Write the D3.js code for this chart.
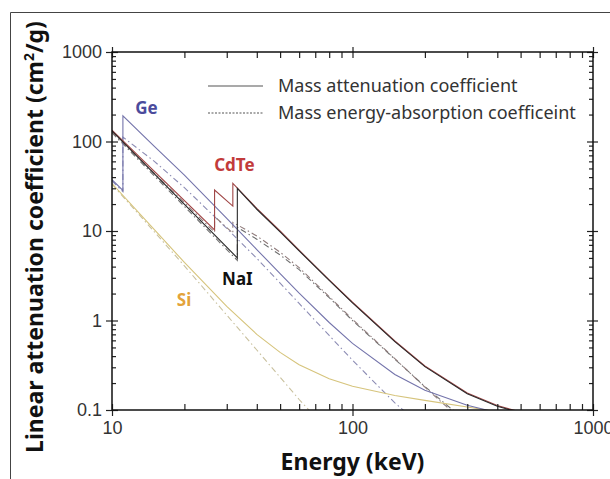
<!DOCTYPE html>
<html>
<head>
<meta charset="utf-8">
<script src="https://cdn.jsdelivr.net/npm/d3@7"></script>
<style>
  body { margin: 0; background: #fff; }
  svg { display: block; font-family: "Noto Sans", "Open Sans", sans-serif; }
  .tick text { fill: #333; }
</style>
</head>
<body>
<div id="chart"></div>
<script>
  // data: [energy keV, coefficient cm2/g]
  var geMu   = [[10,37.4],[11.1,28.4],[11.1,194],[15,88],[20,42.2],[30,13.85],[40,6.21],[50,3.33],[60,2.02],[80,0.95],[100,0.555],[150,0.249],[200,0.166],[300,0.113],[400,0.0933]];
  var geMuEn = [[10,36.3],[11.1,27.5],[11.1,112],[15,60],[20,30.5],[30,10.7],[40,4.95],[50,2.62],[60,1.55],[80,0.68],[100,0.36],[150,0.12],[200,0.062]];
  var cdteMu   = [[10,134],[26.7,10.3],[26.7,28.7],[31.8,19],[31.8,34],[40,17.9],[50,10.0],[60,6.1],[80,2.85],[100,1.6],[150,0.59],[200,0.31],[300,0.155],[400,0.112],[500,0.095]];
  var cdteMuEn = [[10,128],[26.7,9.7],[26.7,14.5],[31.8,9.5],[31.8,12.5],[40,8.8],[50,5.8],[60,3.9],[80,1.85],[100,1.03],[150,0.375],[200,0.18],[250,0.105],[300,0.07]];
  var naiMu   = [[10,131],[33.2,5.0],[33.2,30],[40,17.5],[50,9.8],[60,6.0],[80,2.8],[100,1.57],[150,0.58],[200,0.305],[300,0.152],[400,0.11],[500,0.093]];
  var naiMuEn = [[10,125],[33.2,4.7],[33.2,11],[40,8.1],[50,5.4],[60,3.7],[80,1.8],[100,1.0],[150,0.37],[200,0.183],[250,0.11],[300,0.075]];
  var siMu   = [[10,33.9],[15,10.34],[20,4.46],[30,1.44],[40,0.70],[50,0.44],[60,0.32],[80,0.223],[100,0.184],[150,0.145],[200,0.128],[300,0.108],[400,0.096]];
  var siMuEn = [[10,33.3],[15,9.8],[20,4.08],[30,1.15],[40,0.468],[50,0.232],[60,0.131],[80,0.057]];

  var xMajor = [10, 100, 1000];
  var yMajor = [0.1, 1, 10, 100, 1000];
  var xMinor = [20,30,40,50,60,70,80,90,200,300,400,500,600,700,800,900];
  var yMinor = [];
  [0.1, 1, 10, 100].forEach(function(d) { for (var k = 2; k < 10; k++) yMinor.push(d * k); });

  var legendLabels = ["Mass attenuation coefficient", "Mass energy-absorption coefficeint"];

  var W = 610, H = 479;
  var margin = {top: 52, right: 17, bottom: 69, left: 112};
  var width = W - margin.left - margin.right,
      height = H - margin.top - margin.bottom;

  var svg = d3.select("#chart").append("svg")
    .attr("width", W).attr("height", H);

  // outer frame of the figure
  svg.append("path")
    .attr("d", "M10.5," + H + "V12.5H" + W)
    .attr("fill", "none").attr("stroke", "#444").attr("stroke-width", 1);

  var g = svg.append("g")
    .attr("transform", "translate(" + margin.left + "," + margin.top + ")");

  var x = d3.scaleLog().domain([10, 1000]).range([0, width]);
  var y = d3.scaleLog().domain([0.1, 1000]).range([height, 0]);

  g.append("clipPath").attr("id", "clip")
    .append("rect").attr("width", width).attr("height", height);

  var line = d3.line()
    .x(function(d) { return x(d[0]); })
    .y(function(d) { return y(d[1]); });

  var dashDot = "6,3,1.5,3";
  var series = [
    {data: siMuEn,   color: "#c9c19e", dash: dashDot},
    {data: geMuEn,   color: "#8c8cb4", dash: dashDot},
    {data: naiMuEn,  color: "#707070", dash: dashDot},
    {data: cdteMuEn, color: "#907c7c", dash: dashDot},
    {data: siMu,     color: "#d6c47c", dash: null},
    {data: geMu,     color: "#7474ab", dash: null},
    {data: cdteMu,   color: "#a04646", dash: null},
    {data: naiMu,    color: "#2a2a2a", dash: null}
  ];

  g.append("g").attr("clip-path", "url(#clip)")
    .selectAll("path")
    .data(series)
    .enter().append("path")
    .attr("d", function(d) { return line(d.data); })
    .attr("fill", "none")
    .attr("stroke", function(d) { return d.color; })
    .attr("stroke-width", 1.1)
    .attr("stroke-dasharray", function(d) { return d.dash; });

  // axes: majors cross the frame, minors point inward
  function fmt(d) { return d3.format("~g")(d); }

  function styleAxis(sel) {
    sel.select(".domain").remove();
    sel.selectAll(".tick line").attr("stroke", "#222").attr("stroke-width", 1.2);
    sel.selectAll(".tick text").style("font-size", "18px");
  }

  g.append("g").attr("transform", "translate(0," + height + ")")
    .call(d3.axisBottom(x).tickValues(xMajor).tickFormat(fmt).tickSize(6).tickPadding(5))
    .call(styleAxis);
  g.append("g").attr("transform", "translate(0," + height + ")")
    .call(d3.axisBottom(x).tickValues(xMajor.concat(xMinor)).tickFormat("").tickSize(-6))
    .call(styleAxis);
  g.append("g")
    .call(d3.axisTop(x).tickValues(xMajor.concat(xMinor)).tickFormat("").tickSize(-6))
    .call(styleAxis);
  g.append("g")
    .call(d3.axisTop(x).tickValues(xMajor).tickFormat("").tickSize(5))
    .call(styleAxis);

  g.append("g")
    .call(d3.axisLeft(y).tickValues(yMajor).tickFormat(fmt).tickSize(6).tickPadding(4))
    .call(styleAxis);
  g.append("g")
    .call(d3.axisLeft(y).tickValues(yMajor).tickFormat("").tickSize(-6))
    .call(styleAxis);
  g.append("g")
    .call(d3.axisLeft(y).tickValues(yMinor).tickFormat("").tickSize(-4))
    .call(styleAxis);
  g.append("g").attr("transform", "translate(" + width + ",0)")
    .call(d3.axisRight(y).tickValues(yMajor).tickFormat("").tickSize(5))
    .call(styleAxis);
  g.append("g").attr("transform", "translate(" + width + ",0)")
    .call(d3.axisRight(y).tickValues(yMajor).tickFormat("").tickSize(-6))
    .call(styleAxis);
  g.append("g").attr("transform", "translate(" + width + ",0)")
    .call(d3.axisRight(y).tickValues(yMinor).tickFormat("").tickSize(-4))
    .call(styleAxis);

  g.append("rect")
    .attr("width", width).attr("height", height)
    .attr("fill", "none").attr("stroke", "#111").attr("stroke-width", 1.5);

  // legend
  var legend = g.append("g").attr("transform", "translate(" + (208 - margin.left) + "," + (86 - margin.top) + ")");
  legendLabels.forEach(function(t, i) {
    legend.append("line")
      .attr("x1", 0).attr("x2", 55)
      .attr("y1", i * 27).attr("y2", i * 27)
      .attr("stroke", "#555").attr("stroke-width", 1.1)
      .attr("stroke-dasharray", i ? "2,1.5" : null);
    legend.append("text")
      .attr("x", 70).attr("y", i * 27)
      .attr("dy", "0.35em")
      .style("font-size", "18px").style("fill", "#333")
      .text(t);
  });

  // material labels
  var labels = [
    {t: "Ge",   e: 12.5, v: 237,  c: "#4b4b9c"},
    {t: "CdTe", e: 26.6, v: 55,   c: "#c23b3b"},
    {t: "NaI",  e: 28.7, v: 2.9,  c: "#111"},
    {t: "Si",   e: 18.6, v: 1.7,  c: "#e3a33a"}
  ];
  g.selectAll(".mat")
    .data(labels)
    .enter().append("text")
    .attr("class", "mat")
    .attr("x", function(d) { return x(d.e); })
    .attr("y", function(d) { return y(d.v); })
    .attr("dy", "0.35em")
    .style("font-size", "17px").style("font-weight", "bold")
    .style("fill", function(d) { return d.c; })
    .text(function(d) { return d.t; });

  // axis titles
  svg.append("text")
    .attr("x", margin.left + width / 2).attr("y", 462)
    .attr("dy", "0.35em")
    .attr("text-anchor", "middle")
    .style("font-size", "23px").style("font-weight", "bold").style("fill", "#111")
    .text("Energy (keV)");

  var yt = svg.append("text")
    .attr("transform", "translate(43,237) rotate(-90)")
    .attr("text-anchor", "middle")
    .style("font-size", "23px").style("font-weight", "bold").style("fill", "#111");
  yt.append("tspan").text("Linear attenuation coefficient (cm");
  yt.append("tspan").attr("dy", -9).style("font-size", "14px").text("2");
  yt.append("tspan").attr("dy", 9).text("/g)");
</script>
</body>
</html>
